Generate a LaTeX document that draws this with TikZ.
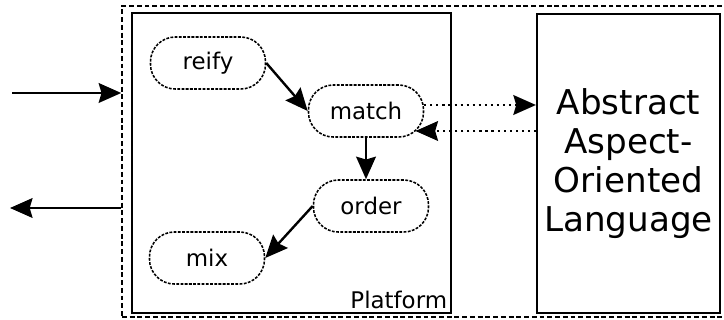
\documentclass[tikz,border=0pt]{standalone}
\usepackage{fontspec}
\setmainfont{DejaVu Sans}
\usetikzlibrary{positioning, arrows.meta}

\begin{document}
\begin{tikzpicture}[
  x=0.025cm, y=-0.025cm,
  >={Stealth[length=16pt, width=14pt, inset=2pt]},
  every node/.style={font=\fontsize{16.3}{19}\selectfont},
  stage/.style={draw, dash pattern=on 2pt off 1pt, line width=1.1pt, rounded corners=0.62cm, minimum width=2.875cm, minimum height=1.3cm, inner sep=0pt},
  flow/.style={->, line width=1.7pt},
  link/.style={->, line width=1.8pt, dash pattern=on 1.5pt off 2.8pt}
]
\useasboundingbox (0,0) rectangle (724,320);

% Outer boundary (runs off the right edge)
\node[draw, dash pattern=on 3.5pt off 2pt, line width=1pt, minimum width=15.4cm, minimum height=7.775cm, inner sep=0pt]
  (world) at (430,161.5) {};

% Platform and language
\node[draw, line width=1.8pt, minimum width=7.975cm, minimum height=7.5cm, inner sep=0pt]
  (platform) at (291.5,163) {};
\node[anchor=south east, inner sep=2.5pt] (plabel) at ([xshift=-1pt, yshift=1pt]platform.south east) {Platform};
\node[draw, line width=1.5pt, minimum width=4.575cm, minimum height=7.475cm, inner sep=0pt, align=center,
  font=\fontsize{24.3}{27.6}\selectfont]
  (lang) at (628.5,163.5) {Abstract\\Aspect-\\Oriented\\Language};

% Stages
\node[stage] (reify) at (208,63) {reify};
\node[stage] (match) at (366,111) {match};
\node[stage] (order) at (371,206) {order};
\node[stage] (mix) at (207,258) {mix};

% Arrows
\coordinate (in) at (12,93);
\coordinate (out) at (10,208);
\draw[flow] (in) -- (in -| world.west);
\draw[flow] (world.west |- out) -- (out);
\draw[flow] (reify.east) -- (match.west);
\draw[flow] (match.south) -- (match.south |- order.north);
\draw[flow] (order.west) -- (mix.east);

% Dotted exchange with the language
\coordinate (ask) at ([yshift=0.15cm]match.east);
\coordinate (back) at ([xshift=-0.22cm, yshift=-0.5cm]match.east);
\draw[link] (ask) -- (ask -| lang.west);
\draw[link] (lang.west |- back) -- (back);

\end{tikzpicture}
\end{document}
